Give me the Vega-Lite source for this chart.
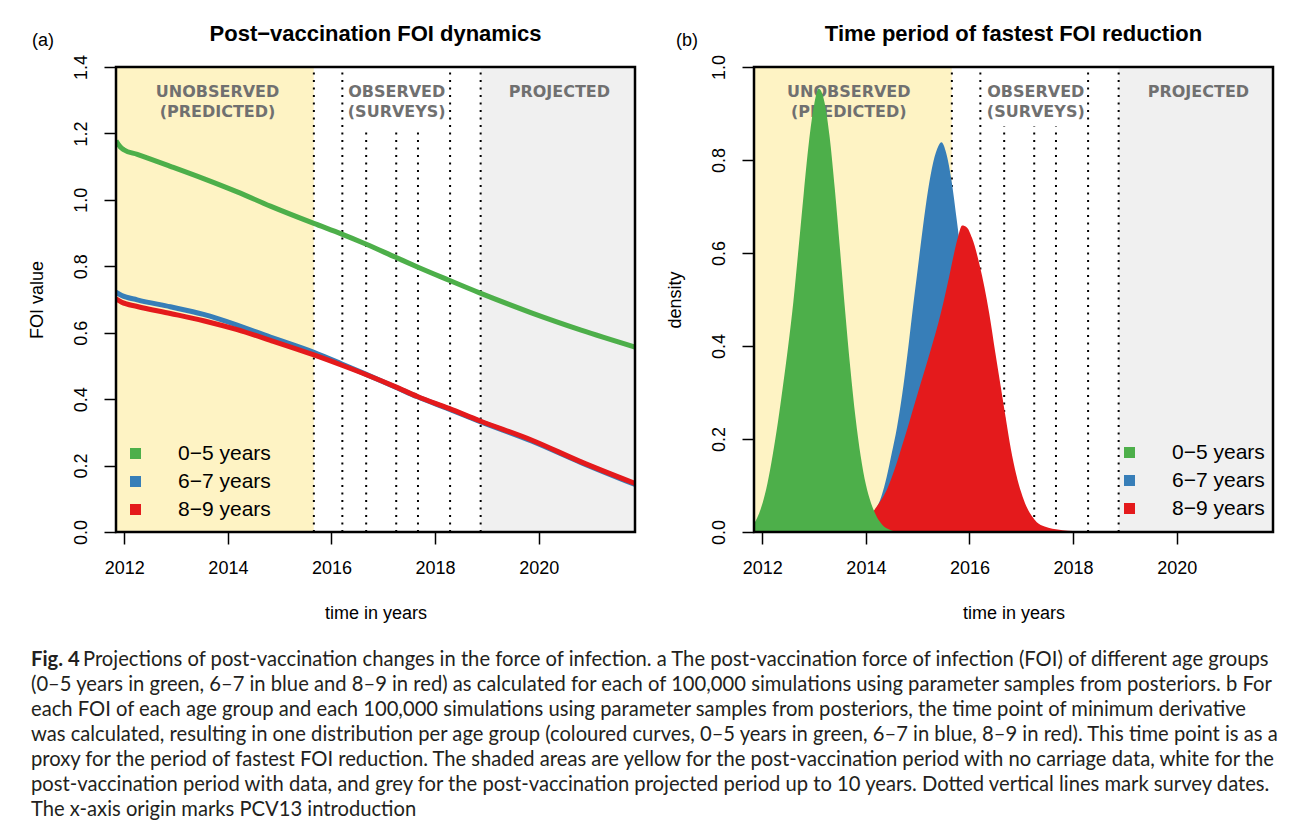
{
  "$schema": "https://vega.github.io/schema/vega-lite/v6.json",
  "background": "white",
  "padding": {"left": 28, "top": 22, "right": 5, "bottom": 5},
  "config": {
    "font": "Liberation Sans",
    "view": {"stroke": null},
    "axis": {"domain": false, "grid": false, "tickColor": "black", "tickWidth": 1.5, "tickSize": 12, "labelFont": "Liberation Sans", "labelFontSize": 18, "labelColor": "black", "titleFont": "Liberation Sans", "titleFontSize": 18, "titleFontWeight": "normal", "titleColor": "black"},
    "axisX": {"labelPadding": 15, "titlePadding": 27, "labelFlush": false},
    "axisY": {"labelAngle": -90, "labelAlign": "center", "labelBaseline": "bottom", "labelPadding": 14, "titlePadding": 26},
    "title": {"font": "Liberation Sans", "fontSize": 22, "fontWeight": "bold", "color": "black", "anchor": "middle", "frame": "group", "baseline": "alphabetic", "offset": -13.5},
    "legend": {"labelFont": "Liberation Sans", "labelFontSize": 21, "labelColor": "black"}
  },
  "datasets": {
    "regions": [
      {"zone": "unobserved", "t": 2011.84, "t2": 2015.66},
      {"zone": "observed", "t": 2015.66, "t2": 2018.88},
      {"zone": "projected", "t": 2018.88, "t2": 2021.86}
    ],
    "labelsA": [
      {"t": 2013.80, "label": "UNOBSERVED\n(PREDICTED)"},
      {"t": 2017.26, "label": "OBSERVED\n(SURVEYS)"},
      {"t": 2020.40, "label": "PROJECTED"}
    ],
    "labelsB": [
      {"t": 2013.67, "label": "UNOBSERVED\n(PREDICTED)"},
      {"t": 2017.28, "label": "OBSERVED\n(SURVEYS)"},
      {"t": 2020.42, "label": "PROJECTED"}
    ],
    "surveys": [
      {"t": 2015.66}, {"t": 2016.21}, {"t": 2016.67}, {"t": 2017.25}, {"t": 2017.67}, {"t": 2018.29}, {"t": 2018.88}
    ],
    "boxA": [{"t": 2016.30, "t2": 2018.23, "v": 1.218}],
    "boxB": [{"t": 2016.32, "t2": 2018.23, "v": 0.872}],
    "foi": [
      {"g": "0−5 years", "t": 2011.84, "v": 1.178}, {"g": "0−5 years", "t": 2011.92, "v": 1.160}, {"g": "0−5 years", "t": 2011.99, "v": 1.151}, {"g": "0−5 years", "t": 2012.25, "v": 1.137}, {"g": "0−5 years", "t": 2012.89, "v": 1.101}, {"g": "0−5 years", "t": 2013.53, "v": 1.064}, {"g": "0−5 years", "t": 2014.18, "v": 1.024}, {"g": "0−5 years", "t": 2014.82, "v": 0.981}, {"g": "0−5 years", "t": 2015.66, "v": 0.929}, {"g": "0−5 years", "t": 2016.20, "v": 0.897}, {"g": "0−5 years", "t": 2016.65, "v": 0.868}, {"g": "0−5 years", "t": 2017.24, "v": 0.827}, {"g": "0−5 years", "t": 2017.66, "v": 0.798}, {"g": "0−5 years", "t": 2018.27, "v": 0.758}, {"g": "0−5 years", "t": 2018.86, "v": 0.720}, {"g": "0−5 years", "t": 2019.86, "v": 0.660}, {"g": "0−5 years", "t": 2020.82, "v": 0.608}, {"g": "0−5 years", "t": 2021.86, "v": 0.557},
      {"g": "6−7 years", "t": 2011.84, "v": 0.722}, {"g": "6−7 years", "t": 2011.95, "v": 0.712}, {"g": "6−7 years", "t": 2012.25, "v": 0.699}, {"g": "6−7 years", "t": 2012.89, "v": 0.678}, {"g": "6−7 years", "t": 2013.53, "v": 0.655}, {"g": "6−7 years", "t": 2014.18, "v": 0.623}, {"g": "6−7 years", "t": 2014.82, "v": 0.587}, {"g": "6−7 years", "t": 2015.66, "v": 0.541}, {"g": "6−7 years", "t": 2016.20, "v": 0.506}, {"g": "6−7 years", "t": 2016.65, "v": 0.476}, {"g": "6−7 years", "t": 2017.24, "v": 0.436}, {"g": "6−7 years", "t": 2017.66, "v": 0.407}, {"g": "6−7 years", "t": 2018.27, "v": 0.370}, {"g": "6−7 years", "t": 2018.86, "v": 0.333}, {"g": "6−7 years", "t": 2019.86, "v": 0.274}, {"g": "6−7 years", "t": 2020.82, "v": 0.209}, {"g": "6−7 years", "t": 2021.86, "v": 0.143},
      {"g": "8−9 years", "t": 2011.84, "v": 0.702}, {"g": "8−9 years", "t": 2011.95, "v": 0.692}, {"g": "8−9 years", "t": 2012.25, "v": 0.679}, {"g": "8−9 years", "t": 2012.89, "v": 0.658}, {"g": "8−9 years", "t": 2013.53, "v": 0.636}, {"g": "8−9 years", "t": 2014.18, "v": 0.609}, {"g": "8−9 years", "t": 2014.82, "v": 0.577}, {"g": "8−9 years", "t": 2015.66, "v": 0.533}, {"g": "8−9 years", "t": 2016.20, "v": 0.502}, {"g": "8−9 years", "t": 2016.65, "v": 0.475}, {"g": "8−9 years", "t": 2017.24, "v": 0.437}, {"g": "8−9 years", "t": 2017.66, "v": 0.408}, {"g": "8−9 years", "t": 2018.27, "v": 0.372}, {"g": "8−9 years", "t": 2018.86, "v": 0.335}, {"g": "8−9 years", "t": 2019.86, "v": 0.277}, {"g": "8−9 years", "t": 2020.82, "v": 0.211}, {"g": "8−9 years", "t": 2021.86, "v": 0.146}
    ],
    "dens": [
      {"g": "0−5 years", "t": 2011.84, "v": 0.018}, {"g": "0−5 years", "t": 2011.9, "v": 0.030}, {"g": "0−5 years", "t": 2012.0, "v": 0.060}, {"g": "0−5 years", "t": 2012.1, "v": 0.105}, {"g": "0−5 years", "t": 2012.2, "v": 0.165}, {"g": "0−5 years", "t": 2012.3, "v": 0.235}, {"g": "0−5 years", "t": 2012.4, "v": 0.315}, {"g": "0−5 years", "t": 2012.5, "v": 0.400}, {"g": "0−5 years", "t": 2012.6, "v": 0.495}, {"g": "0−5 years", "t": 2012.7, "v": 0.610}, {"g": "0−5 years", "t": 2012.8, "v": 0.728}, {"g": "0−5 years", "t": 2012.9, "v": 0.838}, {"g": "0−5 years", "t": 2013.0, "v": 0.918}, {"g": "0−5 years", "t": 2013.09, "v": 0.953}, {"g": "0−5 years", "t": 2013.2, "v": 0.925}, {"g": "0−5 years", "t": 2013.3, "v": 0.850}, {"g": "0−5 years", "t": 2013.4, "v": 0.738}, {"g": "0−5 years", "t": 2013.5, "v": 0.608}, {"g": "0−5 years", "t": 2013.6, "v": 0.475}, {"g": "0−5 years", "t": 2013.7, "v": 0.352}, {"g": "0−5 years", "t": 2013.8, "v": 0.246}, {"g": "0−5 years", "t": 2013.9, "v": 0.163}, {"g": "0−5 years", "t": 2014.0, "v": 0.102}, {"g": "0−5 years", "t": 2014.1, "v": 0.062}, {"g": "0−5 years", "t": 2014.2, "v": 0.035}, {"g": "0−5 years", "t": 2014.3, "v": 0.018}, {"g": "0−5 years", "t": 2014.4, "v": 0.008}, {"g": "0−5 years", "t": 2014.5, "v": 0.003}, {"g": "0−5 years", "t": 2014.6, "v": 0.0},
      {"g": "6−7 years", "t": 2013.8, "v": 0.0}, {"g": "6−7 years", "t": 2013.9, "v": 0.004}, {"g": "6−7 years", "t": 2014.0, "v": 0.012}, {"g": "6−7 years", "t": 2014.1, "v": 0.030}, {"g": "6−7 years", "t": 2014.2, "v": 0.050}, {"g": "6−7 years", "t": 2014.3, "v": 0.077}, {"g": "6−7 years", "t": 2014.4, "v": 0.118}, {"g": "6−7 years", "t": 2014.5, "v": 0.170}, {"g": "6−7 years", "t": 2014.6, "v": 0.225}, {"g": "6−7 years", "t": 2014.7, "v": 0.295}, {"g": "6−7 years", "t": 2014.8, "v": 0.380}, {"g": "6−7 years", "t": 2014.9, "v": 0.475}, {"g": "6−7 years", "t": 2015.0, "v": 0.565}, {"g": "6−7 years", "t": 2015.1, "v": 0.655}, {"g": "6−7 years", "t": 2015.2, "v": 0.735}, {"g": "6−7 years", "t": 2015.3, "v": 0.795}, {"g": "6−7 years", "t": 2015.4, "v": 0.830}, {"g": "6−7 years", "t": 2015.46, "v": 0.838}, {"g": "6−7 years", "t": 2015.55, "v": 0.815}, {"g": "6−7 years", "t": 2015.65, "v": 0.758}, {"g": "6−7 years", "t": 2015.75, "v": 0.675}, {"g": "6−7 years", "t": 2015.85, "v": 0.585}, {"g": "6−7 years", "t": 2016.0, "v": 0.450}, {"g": "6−7 years", "t": 2016.2, "v": 0.290}, {"g": "6−7 years", "t": 2016.4, "v": 0.165}, {"g": "6−7 years", "t": 2016.6, "v": 0.082}, {"g": "6−7 years", "t": 2016.8, "v": 0.035}, {"g": "6−7 years", "t": 2017.0, "v": 0.012}, {"g": "6−7 years", "t": 2017.2, "v": 0.003}, {"g": "6−7 years", "t": 2017.4, "v": 0.0},
      {"g": "8−9 years", "t": 2013.5, "v": 0.0}, {"g": "8−9 years", "t": 2013.7, "v": 0.004}, {"g": "8−9 years", "t": 2013.9, "v": 0.015}, {"g": "8−9 years", "t": 2014.0, "v": 0.025}, {"g": "8−9 years", "t": 2014.1, "v": 0.038}, {"g": "8−9 years", "t": 2014.2, "v": 0.053}, {"g": "8−9 years", "t": 2014.3, "v": 0.070}, {"g": "8−9 years", "t": 2014.4, "v": 0.090}, {"g": "8−9 years", "t": 2014.5, "v": 0.118}, {"g": "8−9 years", "t": 2014.6, "v": 0.150}, {"g": "8−9 years", "t": 2014.7, "v": 0.186}, {"g": "8−9 years", "t": 2014.8, "v": 0.222}, {"g": "8−9 years", "t": 2014.9, "v": 0.260}, {"g": "8−9 years", "t": 2015.0, "v": 0.298}, {"g": "8−9 years", "t": 2015.1, "v": 0.335}, {"g": "8−9 years", "t": 2015.2, "v": 0.372}, {"g": "8−9 years", "t": 2015.3, "v": 0.410}, {"g": "8−9 years", "t": 2015.4, "v": 0.450}, {"g": "8−9 years", "t": 2015.5, "v": 0.495}, {"g": "8−9 years", "t": 2015.6, "v": 0.545}, {"g": "8−9 years", "t": 2015.7, "v": 0.598}, {"g": "8−9 years", "t": 2015.78, "v": 0.635}, {"g": "8−9 years", "t": 2015.86, "v": 0.659}, {"g": "8−9 years", "t": 2015.95, "v": 0.655}, {"g": "8−9 years", "t": 2016.05, "v": 0.632}, {"g": "8−9 years", "t": 2016.2, "v": 0.572}, {"g": "8−9 years", "t": 2016.38, "v": 0.471}, {"g": "8−9 years", "t": 2016.5, "v": 0.385}, {"g": "8−9 years", "t": 2016.6, "v": 0.315}, {"g": "8−9 years", "t": 2016.7, "v": 0.245}, {"g": "8−9 years", "t": 2016.8, "v": 0.178}, {"g": "8−9 years", "t": 2016.9, "v": 0.125}, {"g": "8−9 years", "t": 2017.0, "v": 0.085}, {"g": "8−9 years", "t": 2017.1, "v": 0.055}, {"g": "8−9 years", "t": 2017.2, "v": 0.035}, {"g": "8−9 years", "t": 2017.3, "v": 0.021}, {"g": "8−9 years", "t": 2017.45, "v": 0.012}, {"g": "8−9 years", "t": 2017.6, "v": 0.007}, {"g": "8−9 years", "t": 2017.8, "v": 0.004}, {"g": "8−9 years", "t": 2018.0, "v": 0.002}, {"g": "8−9 years", "t": 2018.1, "v": 0.0}
    ],
    "caption": [
      {"line": 1, "part": "bold", "txt": "Fig. 4"},
      {"line": 1, "part": "rest", "txt": "Projections of post-vaccination changes in the force of infection. a The post-vaccination force of infection (FOI) of different age groups"},
      {"line": 2, "part": "full", "txt": "(0–5 years in green, 6–7 in blue and 8–9 in red) as calculated for each of 100,000 simulations using parameter samples from posteriors. b For"},
      {"line": 3, "part": "full", "txt": "each FOI of each age group and each 100,000 simulations using parameter samples from posteriors, the time point of minimum derivative"},
      {"line": 4, "part": "full", "txt": "was calculated, resulting in one distribution per age group (coloured curves, 0–5 years in green, 6–7 in blue, 8–9 in red). This time point is as a"},
      {"line": 5, "part": "full", "txt": "proxy for the period of fastest FOI reduction. The shaded areas are yellow for the post-vaccination period with no carriage data, white for the"},
      {"line": 6, "part": "full", "txt": "post-vaccination period with data, and grey for the post-vaccination projected period up to 10 years. Dotted vertical lines mark survey dates."},
      {"line": 7, "part": "full", "txt": "The x-axis origin marks PCV13 introduction"}
    ]
  },
  "spacing": 19,
  "vconcat": [
    {
      "spacing": 29,
      "resolve": {"legend": {"color": "independent"}},
      "hconcat": [
        {
          "width": 519,
          "height": 465,
          "title": {"text": "Post−vaccination FOI dynamics"},
          "layer": [
            {"data": {"name": "regions"}, "mark": {"type": "rect"},
             "encoding": {
               "x": {"field": "t", "type": "quantitative", "scale": {"domain": [2011.84, 2021.86], "nice": false, "zero": false}, "axis": {"title": "time in years", "values": [2012, 2014, 2016, 2018, 2020], "format": "d"}},
               "x2": {"field": "t2"},
               "y": {"datum": 0, "type": "quantitative", "scale": {"domain": [0, 1.4], "nice": false, "zero": false}},
               "y2": {"datum": 1.4},
               "fill": {"field": "zone", "type": "nominal", "scale": {"domain": ["unobserved", "observed", "projected"], "range": ["#FEF3C4", "#FFFFFF", "#F0F0F0"]}, "legend": null}}},
            {"data": {"name": "surveys"}, "mark": {"type": "rule", "strokeDash": [2, 5.5], "strokeWidth": 2, "color": "black"},
             "encoding": {
               "x": {"field": "t", "type": "quantitative", "axis": {"title": "time in years", "values": [2012, 2014, 2016, 2018, 2020], "format": "d"}},
               "y": {"datum": 0, "type": "quantitative"},
               "y2": {"datum": 1.4}}},
            {"data": {"name": "boxA"}, "mark": {"type": "rect", "color": "white"},
             "encoding": {
               "x": {"field": "t", "type": "quantitative", "axis": {"title": "time in years", "values": [2012, 2014, 2016, 2018, 2020], "format": "d"}},
               "x2": {"field": "t2"},
               "y": {"field": "v", "type": "quantitative", "axis": {"title": "FOI value", "values": [0, 0.2, 0.4, 0.6, 0.8, 1.0, 1.2, 1.4], "format": ".1f"}},
               "y2": {"datum": 1.4}}},
            {"data": {"name": "labelsA"}, "mark": {"type": "text", "font": "DejaVu Sans", "fontWeight": "bold", "fontSize": 16, "color": "#707070", "lineBreak": "\n", "lineHeight": 19.5, "align": "center", "baseline": "alphabetic", "dy": 30},
             "encoding": {
               "x": {"field": "t", "type": "quantitative", "axis": {"title": "time in years", "values": [2012, 2014, 2016, 2018, 2020], "format": "d"}},
               "y": {"datum": 1.4, "type": "quantitative"},
               "text": {"field": "label"}}},
            {"data": {"name": "foi"}, "transform": [{"filter": "datum.g === '0−5 years'"}], "mark": {"type": "line", "strokeWidth": 5, "interpolate": "monotone", "clip": true},
             "encoding": {
               "x": {"field": "t", "type": "quantitative", "scale": {"domain": [2011.84, 2021.86], "nice": false, "zero": false}, "axis": {"title": "time in years", "values": [2012, 2014, 2016, 2018, 2020], "format": "d"}},
               "y": {"field": "v", "type": "quantitative", "scale": {"domain": [0, 1.4], "nice": false, "zero": false}, "axis": {"title": "FOI value", "values": [0, 0.2, 0.4, 0.6, 0.8, 1.0, 1.2, 1.4], "format": ".1f"}},
               "color": {"field": "g", "type": "nominal", "scale": {"domain": ["0−5 years", "6−7 years", "8−9 years"], "range": ["#4DAF4A", "#377EB8", "#E41A1C"]}, "legend": {"title": null, "orient": "none", "legendX": 9, "legendY": 376, "symbolType": "square", "symbolSize": 121, "symbolStrokeWidth": 0, "symbolOpacity": 1, "labelOffset": 32, "rowPadding": 6, "padding": 0, "encode": {"symbols": {"update": {"fill": {"scale": "color", "field": "value"}, "fillOpacity": {"value": 1}}}}}}}},
            {"data": {"name": "foi"}, "transform": [{"filter": "datum.g === '6−7 years'"}], "mark": {"type": "line", "strokeWidth": 5, "interpolate": "monotone", "clip": true},
             "encoding": {
               "x": {"field": "t", "type": "quantitative", "axis": {"title": "time in years", "values": [2012, 2014, 2016, 2018, 2020], "format": "d"}},
               "y": {"field": "v", "type": "quantitative", "axis": {"title": "FOI value", "values": [0, 0.2, 0.4, 0.6, 0.8, 1.0, 1.2, 1.4], "format": ".1f"}},
               "color": {"field": "g", "type": "nominal", "scale": {"domain": ["0−5 years", "6−7 years", "8−9 years"], "range": ["#4DAF4A", "#377EB8", "#E41A1C"]}, "legend": {"title": null, "orient": "none", "legendX": 9, "legendY": 376, "symbolType": "square", "symbolSize": 121, "symbolStrokeWidth": 0, "symbolOpacity": 1, "labelOffset": 32, "rowPadding": 6, "padding": 0, "encode": {"symbols": {"update": {"fill": {"scale": "color", "field": "value"}, "fillOpacity": {"value": 1}}}}}}}},
            {"data": {"name": "foi"}, "transform": [{"filter": "datum.g === '8−9 years'"}], "mark": {"type": "line", "strokeWidth": 5, "interpolate": "monotone", "clip": true},
             "encoding": {
               "x": {"field": "t", "type": "quantitative", "axis": {"title": "time in years", "values": [2012, 2014, 2016, 2018, 2020], "format": "d"}},
               "y": {"field": "v", "type": "quantitative", "axis": {"title": "FOI value", "values": [0, 0.2, 0.4, 0.6, 0.8, 1.0, 1.2, 1.4], "format": ".1f"}},
               "color": {"field": "g", "type": "nominal", "scale": {"domain": ["0−5 years", "6−7 years", "8−9 years"], "range": ["#4DAF4A", "#377EB8", "#E41A1C"]}, "legend": {"title": null, "orient": "none", "legendX": 9, "legendY": 376, "symbolType": "square", "symbolSize": 121, "symbolStrokeWidth": 0, "symbolOpacity": 1, "labelOffset": 32, "rowPadding": 6, "padding": 0, "encode": {"symbols": {"update": {"fill": {"scale": "color", "field": "value"}, "fillOpacity": {"value": 1}}}}}}}},
            {"data": {"values": [{"k": 1}]}, "mark": {"type": "rect", "fill": null, "stroke": "black", "strokeWidth": 2.5},
             "encoding": {
               "x": {"datum": 2011.84, "type": "quantitative"},
               "x2": {"datum": 2021.86},
               "y": {"datum": 0, "type": "quantitative"},
               "y2": {"datum": 1.4}}},
            {"data": {"values": [{"tag": "(a)"}]}, "mark": {"type": "text", "fontSize": 18, "align": "center", "baseline": "alphabetic", "dx": -73, "dy": -21, "color": "black"},
             "encoding": {
               "x": {"datum": 2011.84, "type": "quantitative"},
               "y": {"datum": 1.4, "type": "quantitative"},
               "text": {"field": "tag"}}}
          ]
        },
        {
          "width": 519,
          "height": 465,
          "title": {"text": "Time period of fastest FOI reduction"},
          "layer": [
            {"data": {"name": "regions"}, "mark": {"type": "rect"},
             "encoding": {
               "x": {"field": "t", "type": "quantitative", "scale": {"domain": [2011.84, 2021.86], "nice": false, "zero": false}, "axis": {"title": "time in years", "values": [2012, 2014, 2016, 2018, 2020], "format": "d"}},
               "x2": {"field": "t2"},
               "y": {"datum": 0, "type": "quantitative", "scale": {"domain": [0, 1], "nice": false, "zero": false}},
               "y2": {"datum": 1},
               "fill": {"field": "zone", "type": "nominal", "scale": {"domain": ["unobserved", "observed", "projected"], "range": ["#FEF3C4", "#FFFFFF", "#F0F0F0"]}, "legend": null}}},
            {"data": {"name": "surveys"}, "mark": {"type": "rule", "strokeDash": [2, 5.5], "strokeWidth": 2, "color": "black"},
             "encoding": {
               "x": {"field": "t", "type": "quantitative", "axis": {"title": "time in years", "values": [2012, 2014, 2016, 2018, 2020], "format": "d"}},
               "y": {"datum": 0, "type": "quantitative"},
               "y2": {"datum": 1}}},
            {"data": {"name": "boxB"}, "mark": {"type": "rect", "color": "white"},
             "encoding": {
               "x": {"field": "t", "type": "quantitative", "axis": {"title": "time in years", "values": [2012, 2014, 2016, 2018, 2020], "format": "d"}},
               "x2": {"field": "t2"},
               "y": {"field": "v", "type": "quantitative", "axis": {"title": "density", "values": [0, 0.2, 0.4, 0.6, 0.8, 1.0], "format": ".1f"}},
               "y2": {"datum": 1}}},
            {"data": {"name": "labelsB"}, "mark": {"type": "text", "font": "DejaVu Sans", "fontWeight": "bold", "fontSize": 16, "color": "#707070", "lineBreak": "\n", "lineHeight": 19.5, "align": "center", "baseline": "alphabetic", "dy": 30},
             "encoding": {
               "x": {"field": "t", "type": "quantitative", "axis": {"title": "time in years", "values": [2012, 2014, 2016, 2018, 2020], "format": "d"}},
               "y": {"datum": 1, "type": "quantitative"},
               "text": {"field": "label"}}},
            {"data": {"name": "dens"}, "transform": [{"filter": "datum.g === '6−7 years'"}], "mark": {"type": "area", "interpolate": "monotone", "opacity": 1, "clip": true},
             "encoding": {
               "x": {"field": "t", "type": "quantitative", "scale": {"domain": [2011.84, 2021.86], "nice": false, "zero": false}, "axis": {"title": "time in years", "values": [2012, 2014, 2016, 2018, 2020], "format": "d"}},
               "y": {"field": "v", "type": "quantitative", "stack": null, "scale": {"domain": [0, 1], "nice": false, "zero": false}, "axis": {"title": "density", "values": [0, 0.2, 0.4, 0.6, 0.8, 1.0], "format": ".1f"}},
               "color": {"field": "g", "type": "nominal", "scale": {"domain": ["0−5 years", "6−7 years", "8−9 years"], "range": ["#4DAF4A", "#377EB8", "#E41A1C"]}, "legend": {"title": null, "orient": "none", "legendX": 365, "legendY": 375, "symbolType": "square", "symbolSize": 121, "symbolStrokeWidth": 0, "symbolOpacity": 1, "labelOffset": 32, "rowPadding": 6, "padding": 0}}}},
            {"data": {"name": "dens"}, "transform": [{"filter": "datum.g === '8−9 years'"}], "mark": {"type": "area", "interpolate": "monotone", "opacity": 1, "clip": true},
             "encoding": {
               "x": {"field": "t", "type": "quantitative", "axis": {"title": "time in years", "values": [2012, 2014, 2016, 2018, 2020], "format": "d"}},
               "y": {"field": "v", "type": "quantitative", "stack": null, "axis": {"title": "density", "values": [0, 0.2, 0.4, 0.6, 0.8, 1.0], "format": ".1f"}},
               "color": {"field": "g", "type": "nominal", "scale": {"domain": ["0−5 years", "6−7 years", "8−9 years"], "range": ["#4DAF4A", "#377EB8", "#E41A1C"]}, "legend": {"title": null, "orient": "none", "legendX": 365, "legendY": 375, "symbolType": "square", "symbolSize": 121, "symbolStrokeWidth": 0, "symbolOpacity": 1, "labelOffset": 32, "rowPadding": 6, "padding": 0}}}},
            {"data": {"name": "dens"}, "transform": [{"filter": "datum.g === '0−5 years'"}], "mark": {"type": "area", "interpolate": "monotone", "opacity": 1, "clip": true},
             "encoding": {
               "x": {"field": "t", "type": "quantitative", "axis": {"title": "time in years", "values": [2012, 2014, 2016, 2018, 2020], "format": "d"}},
               "y": {"field": "v", "type": "quantitative", "stack": null, "axis": {"title": "density", "values": [0, 0.2, 0.4, 0.6, 0.8, 1.0], "format": ".1f"}},
               "color": {"field": "g", "type": "nominal", "scale": {"domain": ["0−5 years", "6−7 years", "8−9 years"], "range": ["#4DAF4A", "#377EB8", "#E41A1C"]}, "legend": {"title": null, "orient": "none", "legendX": 365, "legendY": 375, "symbolType": "square", "symbolSize": 121, "symbolStrokeWidth": 0, "symbolOpacity": 1, "labelOffset": 32, "rowPadding": 6, "padding": 0}}}},
            {"data": {"values": [{"k": 1}]}, "mark": {"type": "rect", "fill": null, "stroke": "black", "strokeWidth": 2.5},
             "encoding": {
               "x": {"datum": 2011.84, "type": "quantitative"},
               "x2": {"datum": 2021.86},
               "y": {"datum": 0, "type": "quantitative"},
               "y2": {"datum": 1}}},
            {"data": {"values": [{"tag": "(b)"}]}, "mark": {"type": "text", "fontSize": 18, "align": "center", "baseline": "alphabetic", "dx": -67, "dy": -21, "color": "black"},
             "encoding": {
               "x": {"datum": 2011.84, "type": "quantitative"},
               "y": {"datum": 1, "type": "quantitative"},
               "text": {"field": "tag"}}}
          ]
        }
      ]
    },
    {
      "width": 1150,
      "height": 180,
      "data": {"name": "caption"},
      "encoding": {
        "x": {"datum": 0, "type": "quantitative", "scale": {"domain": [0, 1]}, "axis": null},
        "y": {"field": "line", "type": "quantitative", "scale": {"domain": [0, 7], "range": [0, 175]}, "axis": null},
        "text": {"field": "txt"}
      },
      "layer": [
        {"transform": [{"filter": "datum.part === 'bold'"}], "mark": {"type": "text", "align": "left", "baseline": "alphabetic", "font": "Lato", "fontSize": 20.2, "fontWeight": "bold", "color": "#231F20", "dx": -85}},
        {"transform": [{"filter": "datum.part === 'rest'"}], "mark": {"type": "text", "align": "left", "baseline": "alphabetic", "font": "Lato", "fontSize": 20.2, "color": "#231F20", "dx": -33}},
        {"transform": [{"filter": "datum.part === 'full'"}], "mark": {"type": "text", "align": "left", "baseline": "alphabetic", "font": "Lato", "fontSize": 20.2, "color": "#231F20", "dx": -85}}
      ]
    }
  ]
}
